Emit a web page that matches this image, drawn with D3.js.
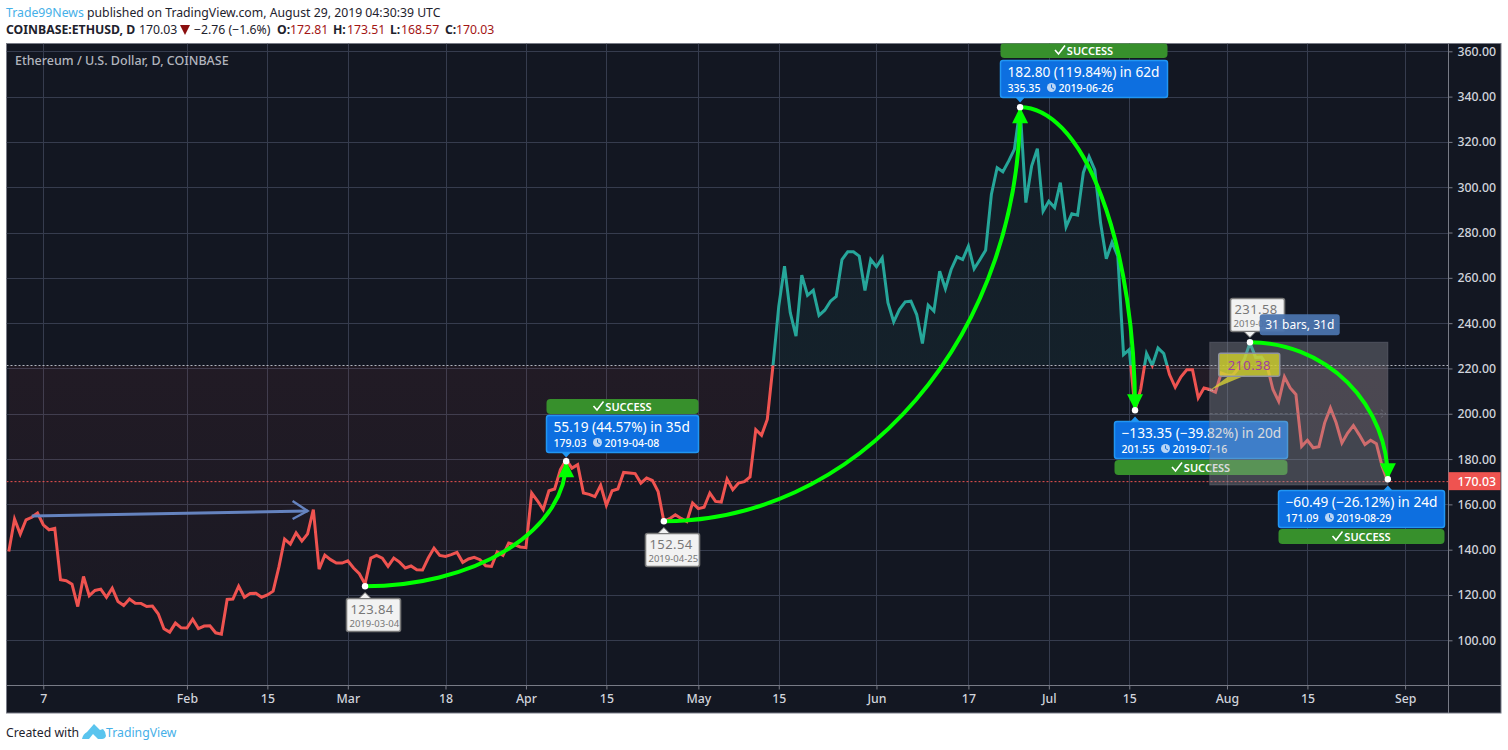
<!DOCTYPE html>
<html lang="en">

<head>
    <meta charset="UTF-8">
    <title>ETHUSD</title>
    <script src="https://cdn.jsdelivr.net/npm/d3@7"></script>
    <style>
        html, body { margin: 0; padding: 0; background: #fff; }
        svg { display: block; font-family: "Noto Sans", sans-serif; }
        .axis text { fill: #d1d4dc; font-size: 12.3px; font-family: "Noto Sans", sans-serif; font-weight: 500; }
        .axis line { stroke: #787b86; }
        .axis path { stroke: #787b86; }
    </style>
</head>

<body>
    <svg id="chart" width="1508" height="750"></svg>

    <script>
        // daily closes from 2019-01-01
        const closeValues = [
            139.2, 153.5, 146.9, 153.2, 154.3, 156.2, 151, 148.8, 149.4, 126.7,
            126.3, 124.8, 114.9, 128.2, 119.7, 122, 122.6, 119, 123, 117.1,
            115.4, 118.2, 116.4, 116.3, 114.9, 115.1, 111.7, 105.1, 103.6, 107.6,
            105.5, 105.4, 109.3, 105.2, 106.3, 106.4, 103.3, 102.7, 118, 118.2,
            123.9, 119, 120.7, 120.8, 119, 120, 121.7, 132.3, 144.7, 142.5,
            147.4, 143.8, 147, 157.7, 131.4, 137.6, 135.6, 134.1, 134.1, 135.1,
            131.9, 129.4, 124.8, 136.3, 137.5, 136.3, 132.6, 136.3, 134.5, 131.9,
            132.8, 131.1, 131, 136.3, 140.7, 137.5, 137, 137.8, 138.8, 134.4,
            135.9, 136.6, 135.6, 132.9, 132.6, 139, 137.5, 142.9, 142.2, 141.2,
            140.9, 165, 161.6, 157.7, 166, 166.8, 175.3, 179.7, 176, 177.5,
            165, 164.4, 163.4, 168.4, 159.6, 166, 166.8, 174.1, 173.9, 173.6,
            169.4, 171.6, 170.6, 165.7, 152.5, 153.7, 155.4, 153.8, 152.4, 160.6,
            158.1, 158.7, 165, 161.3, 161, 171.2, 166.5, 169.4, 170, 172.1,
            193, 190.5, 197.5, 221.5, 247.5, 265.1, 244.6, 234.3, 261.2, 252.3,
            254.5, 243.4, 245.7, 249.7, 251.8, 268.1, 271.5, 271.5, 269.6, 254.4,
            268.1, 264.9, 268.8, 249, 240.6, 246, 249.4, 249.7, 243.8, 231,
            247.9, 245.3, 262.9, 255.2, 263.7, 269.3, 268.1, 274, 264, 268,
            272.2, 296.8, 308.6, 306.8, 311.5, 316.7, 335.1, 293.2, 309.3, 317,
            289.4, 293.8, 291, 302, 282.5, 288.3, 287.7, 306.4, 313.5, 307.6,
            284.3, 268.4, 275.7, 269.6, 226.1, 228.3, 201.55, 211, 226.6, 221.3,
            229, 226.6, 217.3, 211.7, 216.3, 219.4, 219.4, 207, 211.4, 210.7,
            209.5, 218, 217, 217, 220, 223.9, 231.3, 224.8, 225, 221,
            210.7, 205.5, 216.3, 211.4, 208.5, 185.6, 188.3, 185, 185.5, 196,
            202.6, 196, 187.1, 191.5, 194.8, 190.8, 186.4, 188.3, 186.8, 176.8,
            170.03
        ];

        const priceTicks = [100, 120, 140, 160, 180, 200, 220, 240, 260, 280, 300, 320, 340, 360];
        const tickDates = ["2019-01-07", "2019-02-01", "2019-02-15", "2019-03-01", "2019-03-18", "2019-04-01",
            "2019-04-15", "2019-05-01", "2019-05-15", "2019-06-01", "2019-06-17", "2019-07-01", "2019-07-15",
            "2019-08-01", "2019-08-15", "2019-09-01"];
        const tickLabels = ["7", "Feb", "15", "Mar", "18", "Apr", "15", "May", "15", "Jun", "17", "Jul", "15", "Aug", "15", "Sep"];

        const basePrice = 221.3;
        const lastPrice = 170.03;

        // curved moves: from point, to point
        const moveFromDates = ["2019-03-04", "2019-04-25", "2019-06-26", "2019-08-05"];
        const moveFromPrices = [123.84, 152.54, 335.35, 231.58];
        const moveToDates = ["2019-04-08", "2019-06-26", "2019-07-16", "2019-08-29"];
        const moveToPrices = [179.03, 335.35, 201.55, 171.09];
        const moveTitles = ["55.19 (44.57%) in 35d", "182.80 (119.84%) in 62d", "\u2212133.35 (\u221239.82%) in 20d", "\u221260.49 (\u221226.12%) in 24d"];

        // low and high notes in white boxes
        const noteDates = ["2019-03-04", "2019-04-25", "2019-08-05"];
        const notePrices = [123.84, 152.54, 231.58];

        const parseDay = d3.utcParse("%Y-%m-%d");
        const formatDay = d3.utcFormat("%Y-%m-%d");
        const firstDay = parseDay("2019-01-01");
        const days = closeValues.map((v, i) => d3.utcDay.offset(firstDay, i));

        const x = d3.scaleUtc().domain([firstDay, parseDay("2019-09-01")]).range([8.8, 1405.1]);
        const y = d3.scaleLinear().domain([100, 360]).range([640.3, 51.3]);

        const plot = { left: 6.5, right: 1448.5, top: 43.5, bottom: 685.5, outerRight: 1501, outerBottom: 713 };
        const svg = d3.select("#chart");
        const defs = svg.append("defs");

        // header text
        const head1 = svg.append("text").attr("x", 6).attr("y", 17).attr("font-size", 12.25).attr("fill", "#1e222d");
        head1.append("tspan").attr("fill", "#46b0e8").text("Trade99News");
        head1.append("tspan").text(" published on TradingView.com, August 29, 2019 04:30:39 UTC");

        const head2 = svg.append("text").attr("y", 34).attr("font-size", 12.25).attr("fill", "#1e222d");
        head2.append("tspan").attr("x", 6).attr("font-weight", 700).text("COINBASE:ETHUSD, D");
        head2.append("tspan").attr("x", 139).text("170.03");
        head2.append("tspan").attr("x", 194).text("\u22122.76 (\u22121.6%)");
        [["O:", "172.81", 277, 290], ["H:", "173.51", 333, 347], ["L:", "168.57", 390, 401], ["C:", "170.03", 445, 456]].forEach(p => {
            head2.append("tspan").attr("x", p[2]).attr("font-weight", 700).text(p[0]);
            head2.append("tspan").attr("x", p[3]).attr("fill", "#a31515").text(p[1]);
        });
        svg.append("path").attr("d", "M180,25h10l-5,10z").attr("fill", "#8b0f0f");

        // panel
        svg.append("rect")
            .attr("x", plot.left).attr("y", plot.top)
            .attr("width", plot.outerRight - plot.left).attr("height", plot.outerBottom - plot.top)
            .attr("fill", "#131722").attr("stroke", "#787b86").attr("stroke-width", 1);

        defs.append("clipPath").attr("id", "plotClip").append("rect")
            .attr("x", plot.left).attr("y", plot.top)
            .attr("width", plot.right - plot.left).attr("height", plot.bottom - plot.top);
        defs.append("clipPath").attr("id", "aboveBase").append("rect")
            .attr("x", plot.left).attr("y", plot.top)
            .attr("width", plot.right - plot.left).attr("height", y(basePrice) - plot.top);
        defs.append("clipPath").attr("id", "belowBase").append("rect")
            .attr("x", plot.left).attr("y", y(basePrice))
            .attr("width", plot.right - plot.left).attr("height", plot.bottom - y(basePrice));

        const gridLayer = svg.append("g").attr("clip-path", "url(#plotClip)");
        gridLayer.selectAll(".h").data(priceTicks).enter().append("line")
            .attr("x1", plot.left).attr("x2", plot.right)
            .attr("y1", d => Math.round(y(d)) + 0.5).attr("y2", d => Math.round(y(d)) + 0.5)
            .attr("stroke", "#363c4e");
        gridLayer.selectAll(".v").data(tickDates).enter().append("line")
            .attr("x1", d => Math.round(x(parseDay(d))) + 0.5).attr("x2", d => Math.round(x(parseDay(d))) + 0.5)
            .attr("y1", plot.top).attr("y2", plot.bottom)
            .attr("stroke", "#363c4e");

        // baseline series
        const area = d3.area().x((d, i) => x(days[i])).y0(y(basePrice)).y1(d => y(d));
        const line = d3.line().x((d, i) => x(days[i])).y(d => y(d));

        const upGrad = defs.append("linearGradient").attr("id", "upFill").attr("x1", 0).attr("x2", 0).attr("y1", 0).attr("y2", 1);
        upGrad.append("stop").attr("offset", 0).attr("stop-color", "#26a69a").attr("stop-opacity", 0.04);
        upGrad.append("stop").attr("offset", 1).attr("stop-color", "#26a69a").attr("stop-opacity", 0.1);
        const downGrad = defs.append("linearGradient").attr("id", "downFill").attr("x1", 0).attr("x2", 0).attr("y1", 0).attr("y2", 1);
        downGrad.append("stop").attr("offset", 0).attr("stop-color", "#ef5350").attr("stop-opacity", 0.1);
        downGrad.append("stop").attr("offset", 1).attr("stop-color", "#ef5350").attr("stop-opacity", 0.03);

        const series = svg.append("g").attr("clip-path", "url(#plotClip)");
        const upPart = series.append("g").attr("clip-path", "url(#aboveBase)");
        const downPart = series.append("g").attr("clip-path", "url(#belowBase)");
        upPart.append("path").datum(closeValues).attr("d", area).attr("fill", "url(#upFill)");
        downPart.append("path").datum(closeValues).attr("d", area).attr("fill", "url(#downFill)");
        upPart.append("path").datum(closeValues).attr("d", line).attr("fill", "none").attr("stroke", "#26a69a").attr("stroke-width", 3);
        downPart.append("path").datum(closeValues).attr("d", line).attr("fill", "none").attr("stroke", "#ef5350").attr("stroke-width", 3);

        series.append("line").attr("x1", plot.left).attr("x2", plot.right)
            .attr("y1", y(basePrice)).attr("y2", y(basePrice))
            .attr("stroke", "#b2b5be").attr("stroke-dasharray", "2 2");
        series.append("line").attr("x1", plot.left).attr("x2", plot.right)
            .attr("y1", y(lastPrice)).attr("y2", y(lastPrice))
            .attr("stroke", "#ef5350").attr("stroke-dasharray", "2 2");

        // axes
        svg.append("g").attr("class", "axis")
            .attr("transform", `translate(${plot.right},0)`)
            .call(d3.axisRight(y).tickValues(priceTicks).tickFormat(d3.format(".2f")).tickSize(4).tickPadding(5))
            .call(g => g.select(".domain").remove());
        svg.append("g").attr("class", "axis")
            .attr("transform", `translate(0,${plot.bottom})`)
            .call(d3.axisBottom(x).tickValues(tickDates.map(parseDay)).tickFormat((d, i) => tickLabels[i]).tickSize(4).tickPadding(5))
            .call(g => g.select(".domain").remove());
        svg.append("line").attr("x1", plot.right).attr("x2", plot.right).attr("y1", plot.top).attr("y2", plot.outerBottom).attr("stroke", "#787b86");
        svg.append("line").attr("x1", plot.left).attr("x2", plot.outerRight).attr("y1", plot.bottom).attr("y2", plot.bottom).attr("stroke", "#787b86");

        // last price tag
        svg.append("rect").attr("x", plot.right).attr("y", y(lastPrice) - 9.5).attr("width", 52).attr("height", 18).attr("fill", "#ef5350");
        svg.append("text").attr("x", plot.right + 9).attr("y", y(lastPrice) + 4)
            .attr("fill", "#fff").attr("font-size", 12.3).attr("font-weight", 500).text(lastPrice.toFixed(2));

        svg.append("text").attr("x", 15).attr("y", 65).attr("fill", "#b2b5be").attr("font-size", 12.5).attr("font-weight", 500)
            .text("Ethereum / U.S. Dollar, D, COINBASE");

        const notes = svg.append("g").attr("clip-path", "url(#plotClip)");

        // straight blue arrow on the left
        const trendFrom = [parseDay("2019-01-05"), 154.9];
        const trendTo = [parseDay("2019-02-22"), 157.1];
        const tx = x(trendTo[0]), ty = y(trendTo[1]);
        notes.append("line").attr("x1", x(trendFrom[0])).attr("y1", y(trendFrom[1])).attr("x2", tx).attr("y2", ty)
            .attr("stroke", "#6583bf").attr("stroke-width", 3);
        notes.append("path").attr("d", `M${tx - 15},${ty - 10}L${tx},${ty}L${tx - 15},${ty + 8}`)
            .attr("fill", "none").attr("stroke", "#6583bf").attr("stroke-width", 2.4);

        function clockIcon(g, cx, cy) {
            g.append("circle").attr("cx", cx).attr("cy", cy).attr("r", 4.5).attr("fill", "#b8d4f5");
            g.append("path").attr("d", `M${cx},${cy - 3}V${cy}L${cx + 2.5},${cy + 1.5}`).attr("fill", "none").attr("stroke", "#0d6fe0");
        }

        // blue move label plus green SUCCESS bar
        function moveLabel(layer, i, offX, offY, width, barOffY, labelAbove) {
            const ax = x(parseDay(moveToDates[i]));
            const ay = y(moveToPrices[i]);
            const bx = Math.round(ax + offX) + 0.5;
            const by = Math.round(ay + offY) + 0.5;
            const g = layer.append("g");
            g.append("rect").attr("x", bx).attr("y", Math.round(ay + barOffY)).attr("width", width).attr("height", 15).attr("rx", 4).attr("fill", "#37902c");
            g.append("text").attr("x", bx + width / 2 + 6).attr("y", Math.round(ay + barOffY) + 12)
                .attr("text-anchor", "middle").attr("fill", "#fff").attr("font-size", 11).attr("font-weight", 600).text("SUCCESS");
            const cx = bx + width / 2 - 29;
            const cy = Math.round(ay + barOffY) + 7;
            g.append("path").attr("d", `M${cx},${cy}l3.5,4l6.5,-8.5`).attr("fill", "none").attr("stroke", "#fff").attr("stroke-width", 1.6);
            const tipY = labelAbove ? by + 37 + 5 : by - 5;
            g.append("path").attr("d", labelAbove
                ? `M${ax - 5},${by + 36.5}L${ax},${tipY}L${ax + 5},${by + 36.5}Z`
                : `M${ax - 5},${by + 0.5}L${ax},${tipY}L${ax + 5},${by + 0.5}Z`).attr("fill", "#2196f3");
            g.append("rect").attr("x", bx).attr("y", by).attr("width", width).attr("height", 37).attr("rx", 2.5)
                .attr("fill", "#0d6fe0").attr("stroke", "#2196f3").attr("stroke-width", 1.5);
            g.append("text").attr("x", bx + 7).attr("y", by + 16).attr("fill", "#fff").attr("font-size", 13.7).text(moveTitles[i]);
            g.append("text").attr("x", bx + 7).attr("y", by + 31).attr("fill", "#fff").attr("font-size", 10.5).attr("font-weight", 500).text(moveToPrices[i].toFixed(2));
            clockIcon(g, bx + 51, by + 27);
            g.append("text").attr("x", bx + 58).attr("y", by + 31).attr("fill", "#fff").attr("font-size", 10.5).attr("font-weight", 500).text(formatDay(parseDay(moveToDates[i])));
        }

        function noteBox(layer, i, offX, offY, pointDown) {
            const ax = x(parseDay(noteDates[i]));
            const ay = y(notePrices[i]);
            const bx = Math.round(ax + offX) + 0.5;
            const by = Math.round(ay + offY) + 0.5;
            const g = layer.append("g");
            g.append("rect").attr("x", bx).attr("y", by).attr("width", 54).attr("height", 33).attr("rx", 2)
                .attr("fill", "#f2f2f2").attr("stroke", "#777").attr("stroke-width", 1.6);
            g.append("path").attr("d", pointDown
                ? `M${ax - 6},${by + 33}L${ax},${by + 39}L${ax + 6},${by + 33}Z`
                : `M${ax - 6},${by}L${ax},${by - 6}L${ax + 6},${by}Z`).attr("fill", "#f2f2f2").attr("stroke", "#777");
            g.append("text").attr("x", bx + 4).attr("y", by + 15).attr("fill", "#777").attr("font-size", 13).attr("letter-spacing", 0.4).text(notePrices[i].toFixed(2));
            g.append("text").attr("x", bx + 3).attr("y", by + 28).attr("fill", "#777").attr("font-size", 9.5).text(formatDay(parseDay(noteDates[i])));
        }

        moveLabel(notes, 0, -20, -46, 152, -62, true);
        moveLabel(notes, 1, -20, -47, 167, -64, true);
        moveLabel(notes, 2, -21, 11, 173, 50, false);
        moveLabel(notes, 3, -110, 11, 166, 50, false);

        noteBox(notes, 0, -19, 12, false);
        noteBox(notes, 1, -19, 12, false);
        noteBox(notes, 2, -20, -44, true);

        // date range box, it sits over the labels
        const rangeFrom = parseDay("2019-07-29");
        const rangeTo = parseDay("2019-08-29");
        const rangeHigh = 231.58;
        const rangeLow = 168.57;
        notes.append("rect").attr("x", x(rangeFrom)).attr("y", y(rangeHigh))
            .attr("width", x(rangeTo) - x(rangeFrom)).attr("height", y(rangeLow) - y(rangeHigh))
            .attr("fill", "#9598a1").attr("fill-opacity", 0.36)
            .attr("stroke", "#787b86").attr("stroke-opacity", 0.4);
        const midY = (y(rangeHigh) + y(rangeLow)) / 2;
        notes.append("path").attr("d", `M${x(rangeFrom)},${midY}H${x(rangeTo) - 2}m-5,-4l5,4l-5,4`)
            .attr("fill", "none").attr("stroke", "#787b86").attr("stroke-opacity", 0.6).attr("stroke-dasharray", "3 2");

        // yellow price note
        const yellowDate = parseDay("2019-07-29");
        const yellowPrice = 210.38;
        const yx = x(yellowDate), yy = y(yellowPrice);
        notes.append("path").attr("d", `M${yx},${yy}L${yx + 20},${yy - 15}L${yx + 36},${yy - 15}Z`)
            .attr("fill", "#d6d035").attr("fill-opacity", 0.8);
        notes.append("rect").attr("x", yx + 9).attr("y", yy - 37).attr("width", 61).attr("height", 23).attr("rx", 2)
            .attr("fill", "#d6d62a").attr("fill-opacity", 0.78).attr("stroke", "#8f93a0").attr("stroke-width", 1.5);
        notes.append("text").attr("x", yx + 39.5).attr("y", yy - 20.5).attr("text-anchor", "middle")
            .attr("fill", "#a13da1").attr("font-size", 13).attr("letter-spacing", 0.4).text(yellowPrice.toFixed(2));
        notes.append("path").attr("d", `M${yx - 2},${yy}h5`).attr("stroke", "#ccc").attr("stroke-dasharray", "1 1");

        // bars/days tag
        notes.append("rect").attr("x", x(rangeFrom) + 50).attr("y", y(rangeHigh) - 28).attr("width", 80).attr("height", 21).attr("rx", 3)
            .attr("fill", "#4a73ad").attr("fill-opacity", 0.95);
        notes.append("text").attr("x", x(rangeFrom) + 90).attr("y", y(rangeHigh) - 13).attr("text-anchor", "middle")
            .attr("fill", "#fff").attr("font-size", 12).text("31 bars, 31d");

        // green arcs with arrow heads
        moveFromDates.forEach((d, i) => {
            const sx = x(parseDay(d)), sy = y(moveFromPrices[i]);
            const ex = x(parseDay(moveToDates[i])), ey = y(moveToPrices[i]);
            const goingUp = ey < sy;
            notes.append("path")
                .attr("d", `M${sx},${sy}A${ex - sx},${Math.abs(ey - sy)} 0 0 ${goingUp ? 0 : 1} ${ex},${ey}`)
                .attr("fill", "none").attr("stroke", "#00ff00").attr("stroke-width", 4);
            const dir = goingUp ? 1 : -1;
            notes.append("path")
                .attr("d", `M${ex},${ey}L${ex - 8},${ey + dir * 16}L${ex + 8},${ey + dir * 16}Z`)
                .attr("fill", "#00ff00");
        });

        // white points on top
        const dotDates = noteDates.concat(moveToDates);
        const dotPrices = notePrices.concat(moveToPrices);
        notes.selectAll(".dot").data(dotDates).enter().append("circle")
            .attr("cx", d => x(parseDay(d)))
            .attr("cy", (d, i) => y(dotPrices[i]))
            .attr("r", 3.2).attr("fill", "#fff");

        // footer
        const foot = svg.append("text").attr("x", 6).attr("y", 737).attr("font-size", 12.25).attr("fill", "#1e222d");
        foot.append("tspan").text("Created with");
        svg.append("path").attr("d", "M82,739q1,-5 5,-7l7,-8l6,6l3,-1q3,3 3,7q-1,3 -4,3h-4l-5,-5l-4,5z").attr("fill", "#5ac4ee");
        svg.append("text").attr("x", 106).attr("y", 737).attr("font-size", 12.25).attr("fill", "#46b0e8").text("TradingView");
    </script>
</body>

</html>
